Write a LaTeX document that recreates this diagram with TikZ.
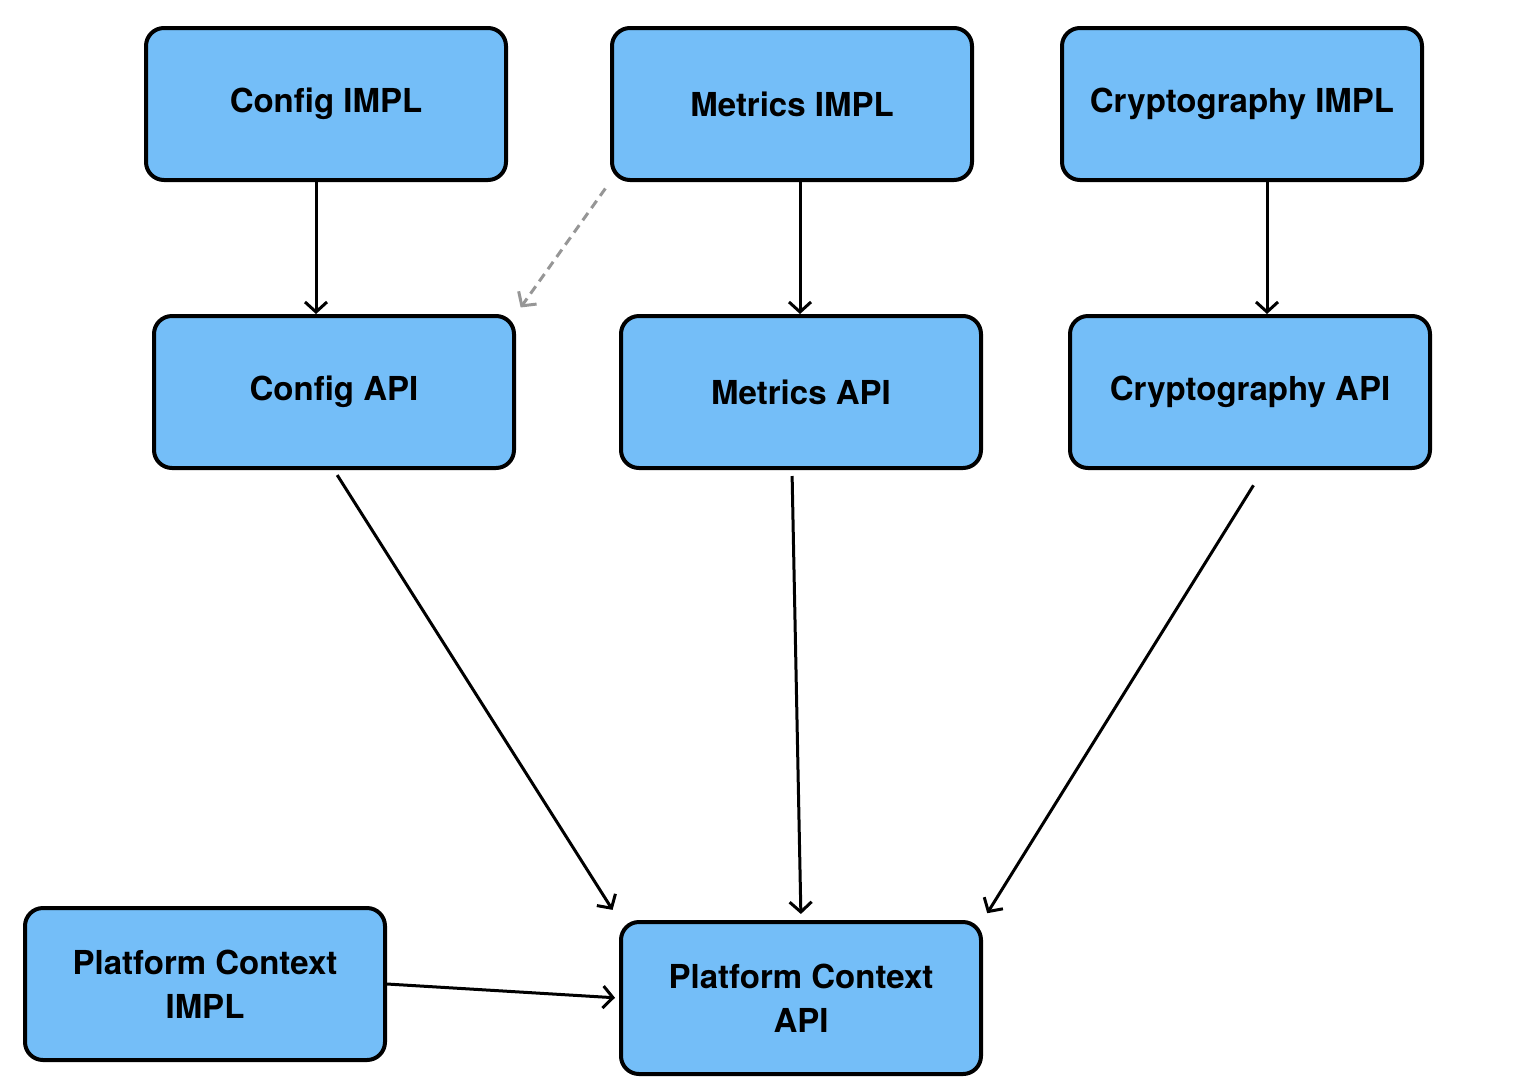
\documentclass[tikz,border=0pt]{standalone}
\usepackage{fontspec}
\setmainfont{TeX Gyre Heros}
\usetikzlibrary{arrows.meta}
\definecolor{boxblue}{RGB}{116,190,248}
\definecolor{dashgrey}{RGB}{150,150,150}
\tikzset{every picture/.style={line width=3pt}}

\begin{document}
\begin{tikzpicture}[x=1pt,y=1pt,yscale=-1,
	box/.style={draw=black, line width=4pt, fill=boxblue, rounded corners=18pt,
		minimum width=360pt, minimum height=152pt, align=center,
		font=\bfseries\fontsize{33}{44}\selectfont},
	link/.style={-{Straight Barb[length=10pt,width=22pt]}}]
		%set diagram to the reference size
		\useasboundingbox (0,0) rectangle (1524,1088);
		
		% top row
		\node [box] (cfgimpl) at (326,104) {Config IMPL};
		\node [box] (metimpl) at (792,104) {Metrics IMPL};
		\node [box] (cryimpl) at (1242,104) {Cryptography IMPL};
		
		% middle row
		\node [box] (cfgapi) at (334,392) {Config API};
		\node [box] (metapi) at (801,392) {Metrics API};
		\node [box] (cryapi) at (1250,392) {Cryptography API};
		
		% bottom row
		\node [box] (pcimpl) at (205,984) {Platform Context\\IMPL};
		\node [box] (pcapi) at (801,998) {Platform Context\\API};
		
		% impl to api
		\draw [link] ([xshift=-10pt]cfgimpl.south) -- ([xshift=-18pt]cfgapi.north);
		\draw [link] ([xshift=8pt]metimpl.south) -- ([xshift=-1pt]metapi.north);
		\draw [link] ([xshift=25pt]cryimpl.south) -- ([xshift=17pt]cryapi.north);
		\draw [link, dashgrey, dashed, dash pattern=on 9pt off 6pt, shorten <=8pt, shorten >=8pt] (metimpl.south west) -- (cfgapi.north east);
		
		% api to platform context
		\draw [link, shorten <=6pt, shorten >=12pt] (cfgapi.south) -- (pcapi.north west);
		\draw [link, shorten <=6pt, shorten >=6pt] ([xshift=-9pt]metapi.south) -- (pcapi.north);
		\draw [link, shorten <=18pt, shorten >=8pt] ([xshift=13pt]cryapi.south) -- (pcapi.north east);
		\draw [link, shorten >=4pt] (pcimpl.east) -- (pcapi.west);
		
\end{tikzpicture}
\end{document}
